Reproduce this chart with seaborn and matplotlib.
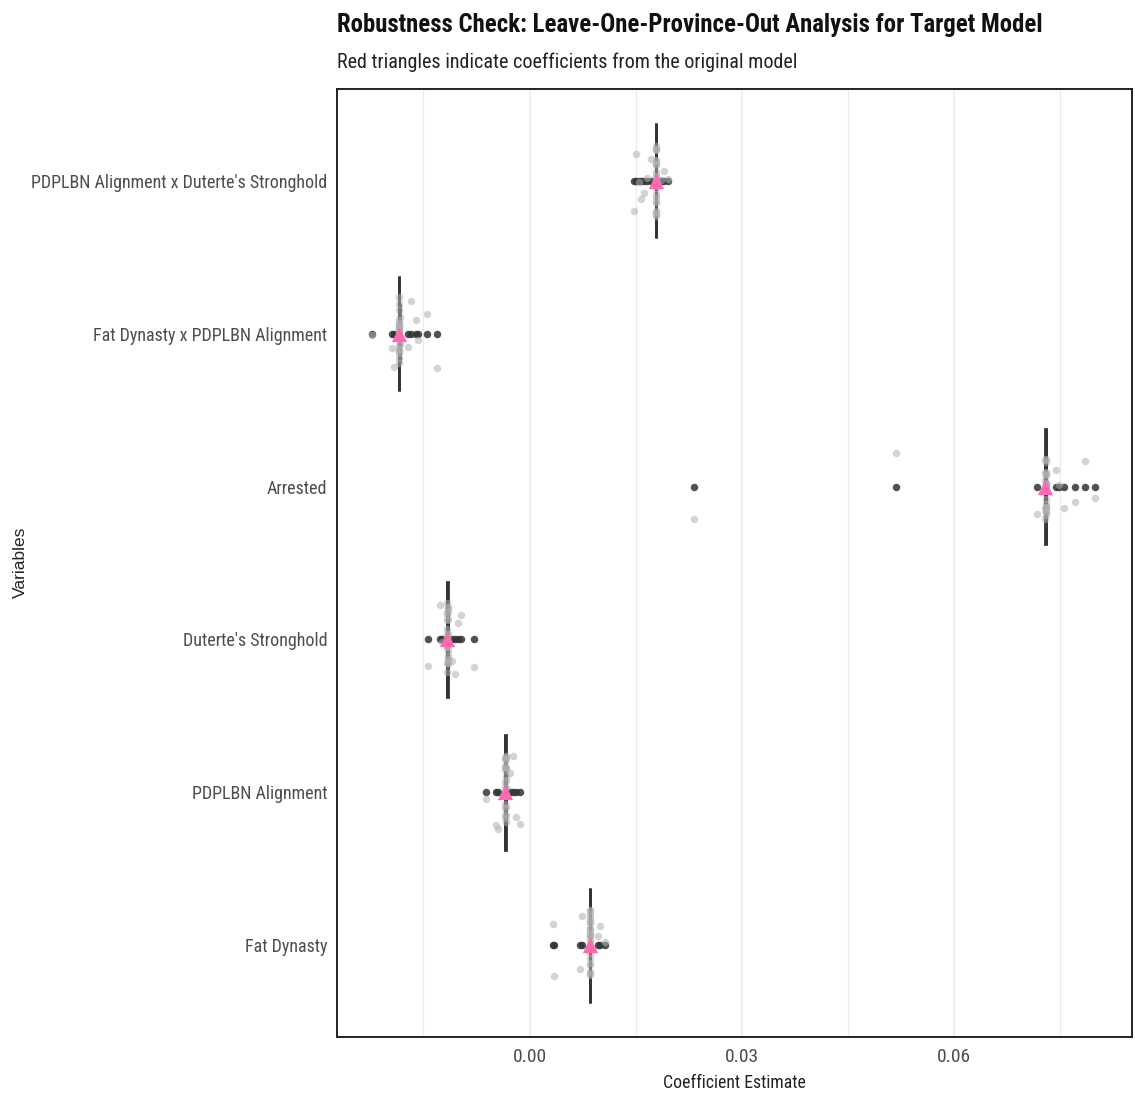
import numpy as np
import pandas as pd
import matplotlib
matplotlib.use("Agg")
import matplotlib.pyplot as plt
import seaborn as sns

# ---------------- data ----------------
variables = [
    "PDPLBN Alignment x Duterte's Stronghold",
    "Fat Dynasty x PDPLBN Alignment",
    "Arrested",
    "Duterte's Stronghold",
    "PDPLBN Alignment",
    "Fat Dynasty",
]

loo_pdplbn_x_duterte = [
    0.01785, 0.01788, 0.01790, 0.01786, 0.01791, 0.01789, 0.01787, 0.01792,
    0.01790, 0.01788, 0.01789, 0.01791, 0.01786, 0.01790, 0.01789, 0.01788,
    0.01793, 0.01787, 0.01790, 0.01789, 0.01791, 0.01788, 0.01790, 0.01789,
    0.0148, 0.0151, 0.0155, 0.0158, 0.0162, 0.0166, 0.0171, 0.0186, 0.0190, 0.0195,
]
loo_fatdyn_x_pdplbn = [
    -0.01838, -0.01841, -0.01839, -0.01842, -0.01840, -0.01837, -0.01840, -0.01839,
    -0.01841, -0.01838, -0.01840, -0.01839, -0.01842, -0.01840, -0.01838, -0.01841,
    -0.01839, -0.01840, -0.01837, -0.01840, -0.01839, -0.01841, -0.01840, -0.01838,
    -0.0223, -0.0195, -0.0192, -0.0172, -0.0167, -0.0160, -0.0157, -0.0145, -0.0131,
]
loo_arrested = [
    0.07288, 0.07291, 0.07289, 0.07292, 0.07290, 0.07287, 0.07290, 0.07289,
    0.07291, 0.07288, 0.07290, 0.07289, 0.07292, 0.07290, 0.07288, 0.07291,
    0.07289, 0.07290, 0.07287, 0.07290, 0.07289, 0.07291, 0.07290, 0.07288,
    0.0232, 0.0518, 0.0717, 0.0743, 0.0748, 0.0755, 0.0771, 0.0785, 0.0799,
]
loo_duterte = [
    -0.01158, -0.01161, -0.01159, -0.01162, -0.01160, -0.01157, -0.01160, -0.01159,
    -0.01161, -0.01158, -0.01160, -0.01159, -0.01162, -0.01160, -0.01158, -0.01161,
    -0.01159, -0.01160, -0.01157, -0.01160, -0.01159, -0.01161, -0.01160, -0.01158,
    -0.0143, -0.0126, -0.0123, -0.0109, -0.0105, -0.0101, -0.0097, -0.0079,
]
loo_pdplbn = [
    -0.00338, -0.00341, -0.00339, -0.00342, -0.00340, -0.00337, -0.00340, -0.00339,
    -0.00341, -0.00338, -0.00340, -0.00339, -0.00342, -0.00340, -0.00338, -0.00341,
    -0.00339, -0.00340, -0.00337, -0.00340, -0.00339, -0.00341, -0.00340, -0.00338,
    -0.0061, -0.0047, -0.0044, -0.0027, -0.0023, -0.0019, -0.0013,
]
loo_fat_dynasty = [
    0.00848, 0.00851, 0.00849, 0.00852, 0.00850, 0.00847, 0.00850, 0.00849,
    0.00851, 0.00848, 0.00850, 0.00849, 0.00852, 0.00850, 0.00848, 0.00851,
    0.00849, 0.00850, 0.00847, 0.00850, 0.00849, 0.00851, 0.00850, 0.00848,
    0.0033, 0.0035, 0.0071, 0.0074, 0.0096, 0.0100, 0.0107,
]

original_coefs = [0.0178, -0.0184, 0.0728, -0.0116, -0.0034, 0.0085]

x_ticks = [0.00, 0.03, 0.06]
x_tick_labels = ["0.00", "0.03", "0.06"]
x_minor_ticks = [-0.015, 0.015, 0.045, 0.075]

# ---------------- build tables ----------------
series = [loo_pdplbn_x_duterte, loo_fatdyn_x_pdplbn, loo_arrested,
          loo_duterte, loo_pdplbn, loo_fat_dynasty]
rows = []
for var, vals in zip(variables, series):
    for v in vals:
        rows.append({"Variable": var, "Estimate": v})
df = pd.DataFrame(rows)
orig_df = pd.DataFrame({"Variable": variables, "Estimate": original_coefs})

# ---------------- plot ----------------
sns.set_theme(style="white")
narrow = ["Roboto Condensed", "PT Sans Narrow", "DejaVu Sans"]
plt.rcParams["font.family"] = narrow

fig = plt.figure(figsize=(11.35, 11.04), dpi=100)
ax = fig.add_axes([337 / 1135, 1 - 1037 / 1104, (1132 - 337) / 1135, (1037 - 89) / 1104])

# grid
for xv in x_minor_ticks:
    ax.axvline(xv, color="#ebebeb", lw=0.9, zorder=0)
for xv in x_ticks:
    ax.axvline(xv, color="#ebebeb", lw=1.2, zorder=0)

sns.boxplot(data=df, x="Estimate", y="Variable", order=variables, orient="h",
            width=0.75, color="#555555", linecolor="#333333", linewidth=2.0,
            whis=1.5, fliersize=5.4,
            flierprops=dict(marker="o", markerfacecolor="#333333",
                            markeredgecolor="none", alpha=0.85),
            ax=ax, zorder=2)

np.random.seed(7)
sns.stripplot(data=df, x="Estimate", y="Variable", order=variables, orient="h",
              jitter=0.24, color="#b0b0b0", alpha=0.55, size=5.4, linewidth=0,
              ax=ax, zorder=3)

sns.stripplot(data=orig_df, x="Estimate", y="Variable", order=variables, orient="h",
              jitter=False, marker="^", color="#FF69B4", size=11, linewidth=0,
              ax=ax, zorder=5)

ax.set_xlim(-0.0272, 0.0851)
ax.set_ylim(5.6, -0.6)
ax.set_xticks(x_ticks)
ax.set_xticklabels(x_tick_labels)
ax.tick_params(axis="x", length=0, colors="#4d4d4d", labelsize=14, pad=8)
ax.tick_params(axis="y", length=0, colors="#4d4d4d", labelsize=13, pad=7)
ax.set_xlabel("")
ax.set_ylabel("")
for sp in ax.spines.values():
    sp.set_visible(True)
    sp.set_color("#222222")
    sp.set_linewidth(1.4)

fig.text(337 / 1135, 1 - 25 / 1104,
         "Robustness Check: Leave-One-Province-Out Analysis for Target Model",
         fontsize=17.8, fontweight="bold", ha="left", va="center", color="#111111",
         family=narrow)
fig.text(337 / 1135, 1 - 62 / 1104,
         "Red triangles indicate coefficients from the original model",
         fontsize=14.5, ha="left", va="center", color="#222222", family=narrow)
fig.text((337 + 1132) / 2 / 1135, 1 - 1083 / 1104, "Coefficient Estimate",
         fontsize=12.8, ha="center", va="center", color="#222222", family=narrow)
fig.text(20 / 1135, 1 - 562 / 1104, "Variables", rotation=90,
         fontsize=12.5, ha="center", va="center", color="#222222",
         family=["Liberation Sans", "DejaVu Sans"])

fig.savefig("out.png", dpi=100)
